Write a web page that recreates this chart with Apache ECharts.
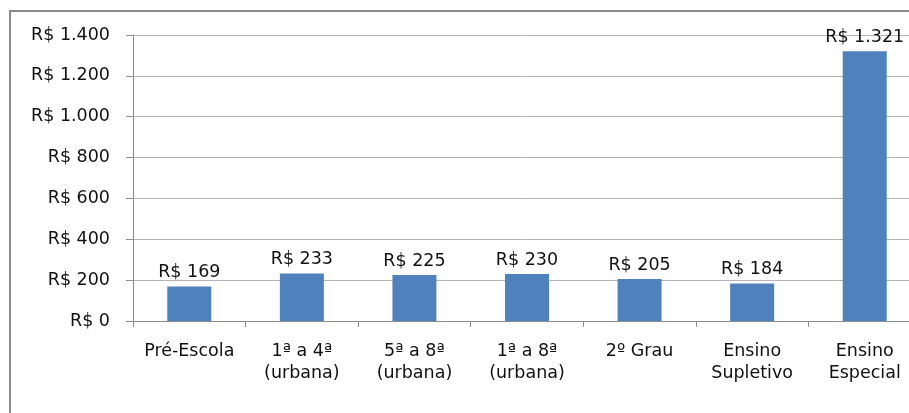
<!DOCTYPE html>
<html>
<head>
<meta charset="utf-8">
<script src="https://cdn.jsdelivr.net/npm/echarts@6/dist/echarts.min.js"></script>
<style>
  html, body { margin: 0; padding: 0; background: #fff; }
  #chart { width: 909px; height: 413px; }
</style>
</head>
<body>
<div id="chart"></div>
<script>
// dados
const categorias = ['Pré-Escola', '1ª a 4ª\n(urbana)', '5ª a 8ª\n(urbana)', '1ª a 8ª\n(urbana)', '2º Grau', 'Ensino\nSupletivo', 'Ensino\nEspecial'];
const valores = [169, 233, 225, 230, 205, 184, 1321];
const eixoY = { min: 0, max: 1400, intervalo: 200 };

// R$ com separador de milhar "."
function reais(v) {
  return 'R$ ' + String(v).replace(/\B(?=(\d{3})+(?!\d))/g, '.');
}

let myChart = echarts.init(document.getElementById('chart'));
myChart.setOption({
  animation: false,
  textStyle: { fontFamily: 'DejaVu Sans' },
  graphic: [{
    type: 'rect',
    shape: { x: 10, y: 11, width: 1000, height: 1000 },
    style: { fill: 'none', stroke: '#8a8a8a', lineWidth: 2 },
    silent: true
  }],
  grid: { left: 133, top: 35, width: 788, height: 286, outerBoundsMode: 'none' },
  xAxis: {
    type: 'category',
    data: categorias,
    axisLine: { lineStyle: { color: '#8c8c8c' } },
    axisTick: { show: true, length: 6, alignWithLabel: false, lineStyle: { color: '#8c8c8c' } },
    axisLabel: { interval: 0, margin: 19, fontSize: 17.5, lineHeight: 22, color: '#111' }
  },
  yAxis: {
    type: 'value',
    min: eixoY.min,
    max: eixoY.max,
    interval: eixoY.intervalo,
    axisLine: { show: true, lineStyle: { color: '#8c8c8c' } },
    axisTick: { show: true, length: 7, lineStyle: { color: '#8c8c8c' } },
    splitLine: { lineStyle: { color: '#b4b4b4' } },
    axisLabel: { margin: 23, fontSize: 17.5, color: '#111', formatter: reais }
  },
  series: [{
    type: 'bar',
    data: valores,
    barWidth: 44,
    itemStyle: { color: '#4f81bd' },
    label: {
      show: true,
      position: 'top',
      distance: 5,
      fontSize: 17.5,
      color: '#111',
      formatter: p => reais(p.value)
    }
  }]
});
</script>
</body>
</html>
